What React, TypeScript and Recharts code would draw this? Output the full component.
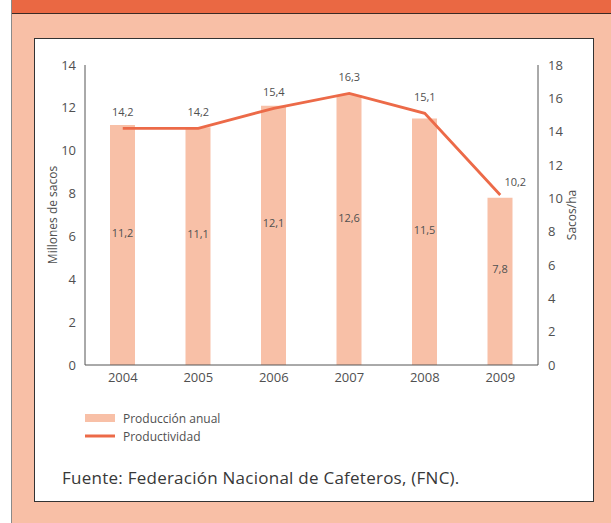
import { ComposedChart, Bar, Line, XAxis, YAxis, LabelList, Legend } from 'recharts'

const years = ['2004', '2005', '2006', '2007', '2008', '2009']
const produccion = [11.2, 11.1, 12.1, 12.6, 11.5, 7.8]
const productividad = [14.2, 14.2, 15.4, 16.3, 15.1, 10.2]
const leftTicks = [0, 2, 4, 6, 8, 10, 12, 14]
const rightTicks = [0, 2, 4, 6, 8, 10, 12, 14, 16, 18]

const BAR = '#f8c0a7'
const LINE = '#ec6a48'
const TEXT = '#505050'
const FONT = '"Open Sans", Lato, sans-serif'

const data = years.map((year, i) => ({
  year,
  produccion: produccion[i],
  productividad: productividad[i],
}))

const fmt = (v: any) => Number(v).toFixed(1).replace('.', ',')

function LineLabel(props: any) {
  const { x, y, value, index } = props
  const last = index === data.length - 1
  return (
    <text
      x={x + (last ? 15 : 0)}
      y={y - (last ? 9 : 12)}
      textAnchor='middle'
      fontSize={11}
      fill={TEXT}
      fontFamily={FONT}
    >
      {fmt(value)}
    </text>
  )
}

function ChartLegend() {
  return (
    <svg width={170} height={40}>
      <rect x={0} y={3} width={30} height={8} fill={BAR} />
      <text x={38} y={11.5} fontSize={12} fill={TEXT} fontFamily={FONT}>Producción anual</text>
      <line x1={0} x2={30} y1={25} y2={25} stroke={LINE} strokeWidth={3} />
      <text x={38} y={29.5} fontSize={12} fill={TEXT} fontFamily={FONT}>Productividad</text>
    </svg>
  )
}

export default function App() {
  const tickStyle = { fontSize: 13, fill: TEXT, fontFamily: FONT }
  return (
    <div style={{ position: 'fixed', left: 0, top: 0, width: 611, height: 523, background: '#fff', overflow: 'hidden' }}>
      <div style={{ position: 'absolute', left: 11, top: 0, width: 600, height: 523, background: '#f8bfa6', borderLeft: '1px solid #8a8a8a' }} />
      <div style={{ position: 'absolute', left: 12, top: 0, width: 599, height: 13, background: '#ea6843', borderBottom: '1px solid #3a2a25' }} />
      <div style={{ position: 'absolute', left: 34, top: 38, width: 558, height: 462, background: '#fff', border: '1px solid #333' }} />
      <div style={{ position: 'absolute', left: 0, top: 0 }}>
        <ComposedChart width={611} height={523} data={data} margin={{ top: 65, right: 33, bottom: 88, left: 45 }}>
          <XAxis
            dataKey='year'
            tickLine={false}
            axisLine={{ stroke: '#555' }}
            tick={tickStyle}
            height={30}
          />
          <YAxis
            yAxisId='left'
            domain={[0, 14]}
            ticks={leftTicks}
            tickLine={false}
            tickSize={6}
            tickMargin={3}
            axisLine={{ stroke: '#555' }}
            tick={tickStyle}
            width={40}
            label={{ value: 'Millones de sacos', angle: -90, position: 'insideLeft', offset: 8, style: { textAnchor: 'middle', fontSize: 12, fill: TEXT, fontFamily: FONT } }}
          />
          <YAxis
            yAxisId='right'
            orientation='right'
            domain={[0, 18]}
            ticks={rightTicks}
            tickLine={false}
            tickSize={6}
            tickMargin={4}
            axisLine={{ stroke: '#555' }}
            tick={tickStyle}
            width={40}
            label={{ value: 'Sacos/ha', angle: -90, position: 'insideRight', offset: 6, style: { textAnchor: 'middle', fontSize: 12, fill: TEXT, fontFamily: FONT } }}
          />
          <Bar yAxisId='left' dataKey='produccion' fill={BAR} barSize={25} isAnimationActive={false}>
            <LabelList dataKey='produccion' position='center' formatter={fmt} offset={0} dy={-12} style={{ fontSize: 11, fill: TEXT, fontFamily: FONT }} />
          </Bar>
          <Line
            yAxisId='right'
            dataKey='productividad'
            stroke={LINE}
            strokeWidth={2.8}
            dot={false}
            isAnimationActive={false}
          >
            <LabelList dataKey='productividad' content={<LineLabel />} />
          </Line>
          <Legend content={<ChartLegend />} wrapperStyle={{ position: 'absolute', left: 85, top: 411, width: 170, height: 40 }} />
        </ComposedChart>
      </div>
      <div style={{ position: 'absolute', left: 62, top: 466, fontSize: 17, letterSpacing: 0.25, color: '#383838', fontFamily: FONT, whiteSpace: 'nowrap' }}>
        Fuente: Federación Nacional de Cafeteros, (FNC).
      </div>
    </div>
  )
}
